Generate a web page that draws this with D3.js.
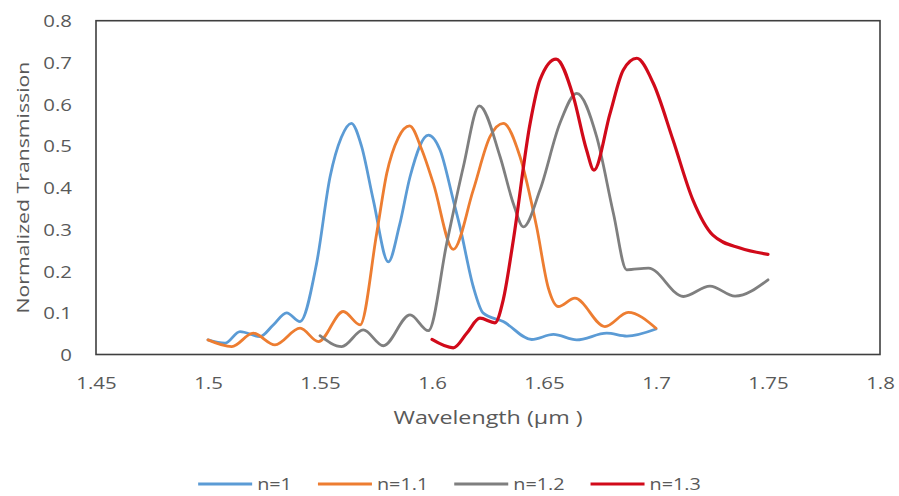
<!DOCTYPE html>
<html>
<head>
<meta charset="utf-8">
<script src="https://cdn.jsdelivr.net/npm/d3@7"></script>
<style>
  body { margin: 0; background: #fff; }
  svg { display: block; }
  text { font-family: "Open Sans", sans-serif; fill: #595959; }
</style>
</head>
<body>
<svg id="chart" width="899" height="496"></svg>
<script>
// Transmission spectra for four refractive indices
const seriesNames = ["n=1", "n=1.1", "n=1.2", "n=1.3"];
const seriesColors = ["#5b9bd5", "#ed7d31", "#7f7f7f", "#d10a1a"];
const seriesWidths = [2.8, 2.8, 2.8, 3.2];

const wavelengthN1 = [1.500, 1.5076, 1.5143, 1.5232, 1.529, 1.5351, 1.5411, 1.5485, 1.5545, 1.5595, 1.564, 1.5685,
  1.5738, 1.5805, 1.5855, 1.5902, 1.5984, 1.6036, 1.6095, 1.6125, 1.6184, 1.6229, 1.6318, 1.6445, 1.6542,
  1.6646, 1.678, 1.687, 1.700];
const transN1 = [0.035, 0.027, 0.055, 0.043, 0.070, 0.100, 0.079, 0.219, 0.426, 0.520, 0.554, 0.500,
  0.370, 0.222, 0.310, 0.426, 0.526, 0.490, 0.370, 0.306, 0.163, 0.099, 0.079, 0.036, 0.048,
  0.035, 0.051, 0.044, 0.061];

const wavelengthN11 = [1.500, 1.5106, 1.5202, 1.5299, 1.5411, 1.5493, 1.5604, 1.5679, 1.5753, 1.5798, 1.585, 1.590,
  1.5955, 1.6006, 1.6095, 1.6184, 1.6259, 1.6318, 1.6393, 1.6467, 1.6519, 1.6564, 1.6638, 1.6772,
  1.6876, 1.700];
const transN11 = [0.035, 0.019, 0.051, 0.023, 0.063, 0.031, 0.103, 0.071, 0.290, 0.434, 0.520, 0.548,
  0.490, 0.410, 0.252, 0.394, 0.522, 0.554, 0.474, 0.306, 0.160, 0.115, 0.135, 0.067,
  0.101, 0.063];

const wavelengthN12 = [1.550, 1.5597, 1.5693, 1.5783, 1.5902, 1.5984,
  1.6066, 1.614, 1.6211, 1.6304, 1.6363, 1.6408, 1.6482, 1.6571, 1.6646, 1.6735, 1.681, 1.6869,
  1.6966, 1.7122, 1.7241, 1.7353, 1.750];
const transN12 = [0.045, 0.019, 0.059, 0.021, 0.095, 0.057,
  0.267, 0.450, 0.596, 0.474, 0.362, 0.306, 0.394, 0.554, 0.626, 0.522, 0.338, 0.203,
  0.207, 0.139, 0.164, 0.140, 0.179];

const wavelengthN13 = [1.600, 1.6095, 1.6155, 1.6214, 1.6281, 1.6318, 1.6363, 1.6438, 1.6482, 1.6554, 1.6631, 1.669,
  1.6723, 1.6795, 1.6854, 1.6914, 1.6988, 1.7076, 1.7165, 1.7254, 1.7375, 1.750];
const transN13 = [0.036, 0.016, 0.051, 0.087, 0.076, 0.131, 0.274, 0.554, 0.658, 0.708, 0.618, 0.490,
  0.442, 0.578, 0.682, 0.710, 0.650, 0.514, 0.370, 0.286, 0.255, 0.240];

const xTicks = [1.45, 1.5, 1.55, 1.6, 1.65, 1.7, 1.75, 1.8];
const xTickLabels = ["1.45", "1.5", "1.55", "1.6", "1.65", "1.7", "1.75", "1.8"];
const yTicks = [0, 0.1, 0.2, 0.3, 0.4, 0.5, 0.6, 0.7, 0.8];
const yTickLabels = ["0", "0.1", "0.2", "0.3", "0.4", "0.5", "0.6", "0.7", "0.8"];

const xTitle = "Wavelength (μm )";
const yTitle = "Normalized Transmission";

const seriesX = [wavelengthN1, wavelengthN11, wavelengthN12, wavelengthN13];
const seriesY = [transN1, transN11, transN12, transN13];

const W = 899, H = 496;
const plot = { left: 96, right: 880, top: 20.7, bottom: 354.5 };
const textStretch = 1.2;

const svg = d3.select("#chart");
svg.append("rect").attr("width", W).attr("height", H).attr("fill", "#fff");

const x = d3.scaleLinear().domain([1.45, 1.8]).range([plot.left, plot.right]);
const y = d3.scaleLinear().domain([0, 0.8]).range([plot.bottom, plot.top]);

// Axes (labels only, no tick marks)
const xAxis = svg.append("g")
  .attr("transform", `translate(0,${plot.bottom})`)
  .call(d3.axisBottom(x).tickValues(xTicks).tickSize(0)
    .tickFormat((d, i) => xTickLabels[i]));
xAxis.select(".domain").remove();
xAxis.selectAll("text")
  .attr("y", 0).attr("dy", 0)
  .attr("transform", `translate(0,34) scale(${textStretch},1)`)
  .style("font-size", "17px")
  .attr("fill", "#595959");

const yAxis = svg.append("g")
  .attr("transform", `translate(${plot.left},0)`)
  .call(d3.axisLeft(y).tickValues(yTicks).tickSize(0)
    .tickFormat((d, i) => yTickLabels[i]));
yAxis.select(".domain").remove();
yAxis.selectAll("text")
  .attr("x", 0).attr("dy", 0)
  .attr("transform", `translate(-24,6) scale(${textStretch},1)`)
  .style("font-size", "17px")
  .attr("fill", "#595959");
svg.selectAll(".tick text").style("font-family", "'Open Sans', sans-serif");

// Series curves (smoothed, flat tangents at turning points)
const line = d3.line()
  .x(d => x(d[0]))
  .y(d => y(d[1]))
  .curve(d3.curveMonotoneX);

seriesNames.forEach((name, i) => {
  const pts = seriesX[i].map((w, k) => [w, seriesY[i][k]]);
  svg.append("path")
    .datum(pts)
    .attr("d", line)
    .attr("fill", "none")
    .attr("stroke", seriesColors[i])
    .attr("stroke-width", seriesWidths[i])
    .attr("stroke-linejoin", "round")
    .attr("stroke-linecap", "round");
});

// Plot frame
svg.append("rect")
  .attr("x", plot.left).attr("y", plot.top)
  .attr("width", plot.right - plot.left).attr("height", plot.bottom - plot.top)
  .attr("fill", "none").attr("stroke", "#3f3f3f").attr("stroke-width", 1.6);

// Axis titles
svg.append("text")
  .attr("transform", `translate(${(plot.left + plot.right) / 2},424) scale(1.33,1)`)
  .attr("text-anchor", "middle")
  .style("font-size", "17.5px")
  .text(xTitle);

svg.append("text")
  .attr("transform", `translate(29,${(plot.top + plot.bottom) / 2}) rotate(-90) scale(1.25,1)`)
  .attr("text-anchor", "middle")
  .style("font-size", "17px")
  .text(yTitle);

// Legend
const legend = svg.append("g");
const swatch = 54, gapText = 5, gapItem = 26;
let cursor = 0;
seriesNames.forEach((name, i) => {
  const g = legend.append("g");
  g.append("line")
    .attr("x1", 0).attr("x2", swatch).attr("y1", 0).attr("y2", 0)
    .attr("stroke", seriesColors[i]).attr("stroke-width", 3);
  const t = g.append("text")
    .attr("transform", `translate(${swatch + gapText},6) scale(${textStretch},1)`)
    .style("font-size", "16.5px")
    .text(name);
  const w = swatch + gapText + t.node().getComputedTextLength() * textStretch;
  g.attr("transform", `translate(${cursor},0)`);
  cursor += w + gapItem;
});
const legendWidth = cursor - gapItem;
legend.attr("transform", `translate(${(W - legendWidth) / 2},484)`);
</script>
</body>
</html>
